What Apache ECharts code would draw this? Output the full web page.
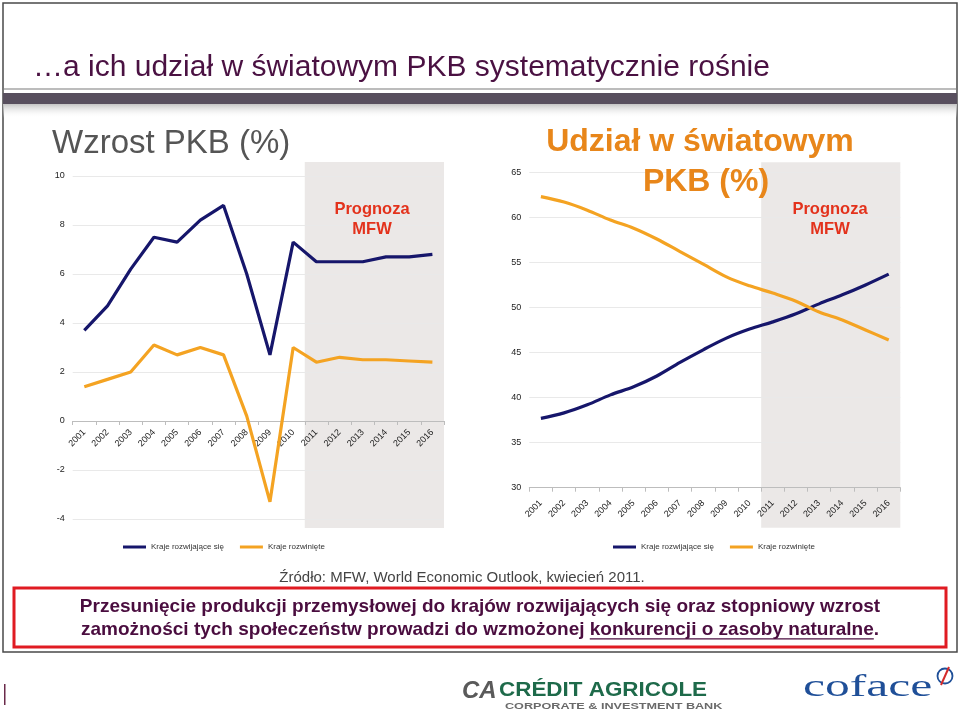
<!DOCTYPE html>
<html>
<head>
<meta charset="utf-8">
<script src="https://cdn.jsdelivr.net/npm/echarts@6/dist/echarts.min.js"></script>
<style>
html,body{margin:0;padding:0;background:#fff;}
#c{width:960px;height:713px;}
</style>
</head>
<body>
<div id="c"></div>
<script>
// ---- DATA ----
const years = ['2001','2002','2003','2004','2005','2006','2007','2008','2009','2010','2011','2012','2013','2014','2015','2016'];
const seriesNames = ['Kraje rozwijające się', 'Kraje rozwinięte'];
const growthEmerging = [3.7, 4.7, 6.2, 7.5, 7.3, 8.2, 8.8, 6.0, 2.7, 7.3, 6.5, 6.5, 6.5, 6.7, 6.7, 6.8];
const growthAdvanced = [1.4, 1.7, 2.0, 3.1, 2.7, 3.0, 2.7, 0.2, -3.3, 3.0, 2.4, 2.6, 2.5, 2.5, 2.45, 2.4];
const shareEmerging = [37.7, 38.3, 39.2, 40.3, 41.2, 42.4, 43.9, 45.3, 46.6, 47.6, 48.4, 49.3, 50.4, 51.4, 52.5, 53.7];
const shareAdvanced = [62.3, 61.7, 60.8, 59.7, 58.8, 57.6, 56.2, 54.8, 53.4, 52.4, 51.6, 50.7, 49.5, 48.6, 47.5, 46.4];
const forecastFrom = '2011';
const growthAxis = {min: -4, max: 10, interval: 2};
const shareAxis = {min: 30, max: 65, interval: 5};

// ---- STYLE ----
const FONT = '"Liberation Sans", Arial, sans-serif';
const NAVY = '#16166b';
const ORANGE = '#f4a322';
const BAND = '#ebe8e7';
const RED = '#e3321c';
const grid0 = {left: 72.7, top: 176, width: 371.3, height: 343};
const grid1 = {left: 529.3, top: 172.3, width: 371, height: 315.4};

const chart = echarts.init(document.getElementById('c'), null, {renderer: 'canvas'});

const fStart = years.indexOf(forecastFrom);
const fEnd = years.length - 1;
// distance from the grid bottom up to the zero line of the growth chart
const zeroOffset = -((0 - growthAxis.min) / (growthAxis.max - growthAxis.min)) * grid0.height;

function bandSeries(gridIdx, padTop, padBottom) {
  return {
    type: 'custom',
    xAxisIndex: gridIdx, yAxisIndex: gridIdx,
    silent: true,
    z: -1,
    encode: {x: [0, 1]},
    data: [[fStart, fEnd]],
    renderItem: function (params, api) {
      const cs = params.coordSys;
      const bw = api.size([1, 0])[0];
      const x0 = api.coord([api.value(0), 0])[0] - bw / 2;
      const x1 = api.coord([api.value(1), 0])[0] + bw / 2;
      return {
        type: 'rect',
        shape: {x: x0, y: cs.y - padTop, width: x1 - x0, height: cs.height + padTop + padBottom},
        style: {fill: BAND}
      };
    }
  };
}

const axisLabelStyle = {color: '#222', fontSize: 9, fontFamily: FONT};

function lineSeries(name, data, color, gridIdx, smooth) {
  return {
    name: name, type: 'line', data: data,
    xAxisIndex: gridIdx, yAxisIndex: gridIdx,
    symbol: 'none', smooth: smooth,
    lineStyle: {color: color, width: 3.2},
    itemStyle: {color: color},
    z: 3
  };
}

function txt(x, y, text, font, fill, align, extra) {
  return Object.assign({
    type: 'text', z: 60,
    style: {x: x, y: y, text: text, font: font, fill: fill,
      align: align || 'left', textAlign: align || 'left',
      verticalAlign: 'middle', textVerticalAlign: 'middle'}
  }, extra || {});
}
function stretchedTxt(x, y, sx, text, font, fill) {
  return {
    type: 'text', z: 60, x: x, y: y, scaleX: sx,
    style: {x: 0, y: 0, text: text, font: font, fill: fill,
      align: 'left', textAlign: 'left', verticalAlign: 'middle', textVerticalAlign: 'middle'}
  };
}

// measure for underline
const mctx = document.createElement('canvas').getContext('2d');
const boldFont = 'bold 19px "Liberation Sans", Arial, sans-serif';
mctx.font = boldFont;
const line2a = 'zamożności tych społeczeństw prowadzi do wzmożonej ';
const line2b = 'konkurencji o zasoby naturalne';
const line2c = '.';
const wA = mctx.measureText(line2a).width;
const wB = mctx.measureText(line2b).width;
const wC = mctx.measureText(line2c).width;
const line2Start = 480 - (wA + wB + wC) / 2;

const option = {
  animation: false,
  backgroundColor: '#fff',
  grid: [grid0, grid1],
  xAxis: [
    {
      gridIndex: 0, type: 'category', data: years, boundaryGap: true,
      position: 'bottom', offset: zeroOffset,
      axisLine: {onZero: false, lineStyle: {color: '#bdbdbd'}},
      axisTick: {show: true, length: 4, lineStyle: {color: '#bdbdbd'}},
      axisLabel: Object.assign({rotate: 45, margin: 10, interval: 0}, axisLabelStyle)
    },
    {
      gridIndex: 1, type: 'category', data: years, boundaryGap: true,
      axisLine: {lineStyle: {color: '#bdbdbd'}},
      axisTick: {show: true, length: 4, lineStyle: {color: '#bdbdbd'}},
      axisLabel: Object.assign({rotate: 45, margin: 14, interval: 0}, axisLabelStyle)
    }
  ],
  yAxis: [
    {
      gridIndex: 0, type: 'value', min: growthAxis.min, max: growthAxis.max, interval: growthAxis.interval,
      axisLine: {show: false}, axisTick: {show: false},
      splitLine: {lineStyle: {color: '#e9e9e9'}},
      axisLabel: Object.assign({margin: 8}, axisLabelStyle)
    },
    {
      gridIndex: 1, type: 'value', min: shareAxis.min, max: shareAxis.max, interval: shareAxis.interval,
      axisLine: {show: false}, axisTick: {show: false},
      splitLine: {lineStyle: {color: '#e9e9e9'}},
      axisLabel: Object.assign({margin: 8}, axisLabelStyle)
    }
  ],
  legend: [
    {
      left: 118, top: 538, icon: 'rect', itemWidth: 23, itemHeight: 3, itemGap: 16,
      data: seriesNames, selectedMode: false,
      textStyle: {fontSize: 8, color: '#333', fontFamily: FONT}
    },
    {
      left: 608, top: 538, icon: 'rect', itemWidth: 23, itemHeight: 3, itemGap: 16,
      data: seriesNames, selectedMode: false,
      textStyle: {fontSize: 8, color: '#333', fontFamily: FONT}
    }
  ],
  series: [
    bandSeries(0, 14, 9),
    bandSeries(1, 10, 40),
    lineSeries(seriesNames[0], growthEmerging, NAVY, 0, false),
    lineSeries(seriesNames[1], growthAdvanced, ORANGE, 0, false),
    lineSeries(seriesNames[0], shareEmerging, NAVY, 1, 0.35),
    lineSeries(seriesNames[1], shareAdvanced, ORANGE, 1, 0.35)
  ],
  graphic: [
    // outer frame
    {type: 'rect', z: 50, shape: {x: 3, y: 3, width: 954, height: 649}, style: {fill: null, stroke: '#4a4a4a', lineWidth: 1.5}},
    // header line and bar
    {type: 'rect', z: 50, shape: {x: 3, y: 88.5, width: 954, height: 1}, style: {fill: '#7a7a7a'}},
    {type: 'rect', z: 50, shape: {x: 3, y: 93, width: 954, height: 11}, style: {fill: '#584f5e'}},
    {type: 'rect', z: 50, shape: {x: 3, y: 104, width: 954, height: 14}, style: {
      fill: new echarts.graphic.LinearGradient(0, 0, 0, 1, [{offset: 0, color: '#c4c4c4'}, {offset: 1, color: 'rgba(255,255,255,0)'}])
    }},
    txt(33, 68, '…a ich udział w światowym PKB systematycznie rośnie', '30px ' + FONT, '#4a1142'),
    // chart titles
    txt(52, 144, 'Wzrost PKB (%)', '33px ' + FONT, '#555'),
    txt(700, 142.5, 'Udział w światowym', 'bold 32px ' + FONT, '#e8861a', 'center'),
    txt(706, 182.5, 'PKB (%)', 'bold 32px ' + FONT, '#e8861a', 'center'),
    // Prognoza labels
    txt(372, 209, 'Prognoza', 'bold 16.5px ' + FONT, RED, 'center'),
    txt(372, 229, 'MFW', 'bold 16.5px ' + FONT, RED, 'center'),
    txt(830, 209, 'Prognoza', 'bold 16.5px ' + FONT, RED, 'center'),
    txt(830, 229, 'MFW', 'bold 16.5px ' + FONT, RED, 'center'),
    // source
    txt(462, 578, 'Źródło: MFW, World Economic Outlook, kwiecień 2011.', '15px ' + FONT, '#444', 'center'),
    // red box
    {type: 'rect', z: 50, shape: {x: 14, y: 588, width: 932, height: 59}, style: {fill: null, stroke: '#e01b22', lineWidth: 3}},
    txt(480, 607, 'Przesunięcie produkcji przemysłowej do krajów rozwijających się oraz stopniowy wzrost', boldFont, '#4a0d3f', 'center'),
    txt(line2Start, 630, line2a + line2b + line2c, boldFont, '#4a0d3f', 'left'),
    {type: 'line', z: 60, shape: {x1: line2Start + wA, y1: 638.8, x2: line2Start + wA + wB, y2: 638.8}, style: {stroke: '#4a0d3f', lineWidth: 1.3}},
    // bottom left mark
    {type: 'rect', z: 50, shape: {x: 4, y: 684, width: 1.5, height: 21}, style: {fill: '#6a2a4a'}},
    // Credit Agricole logo
    txt(462, 691, 'CA', 'italic bold 24px ' + FONT, '#5a5a5a'),
    stretchedTxt(499, 691, 1.15, 'CRÉDIT AGRICOLE', 'bold 19.5px ' + FONT, '#1e6a4a'),
    stretchedTxt(505, 706, 1.33, 'CORPORATE & INVESTMENT BANK', 'bold 9.5px ' + FONT, '#6a6a6a'),
    // coface logo
    stretchedTxt(803, 688, 1.6, 'coface', '31px "Liberation Serif", "Times New Roman", serif', '#1f4f98'),
    {type: 'circle', z: 60, shape: {cx: 945, cy: 676, r: 7.5}, style: {fill: '#fff', stroke: '#1f4f98', lineWidth: 1.8}},
    {type: 'line', z: 61, shape: {x1: 941, y1: 685, x2: 949, y2: 667}, style: {stroke: '#d42a2a', lineWidth: 2}}
  ]
};

chart.setOption(option);
</script>
</body>
</html>
